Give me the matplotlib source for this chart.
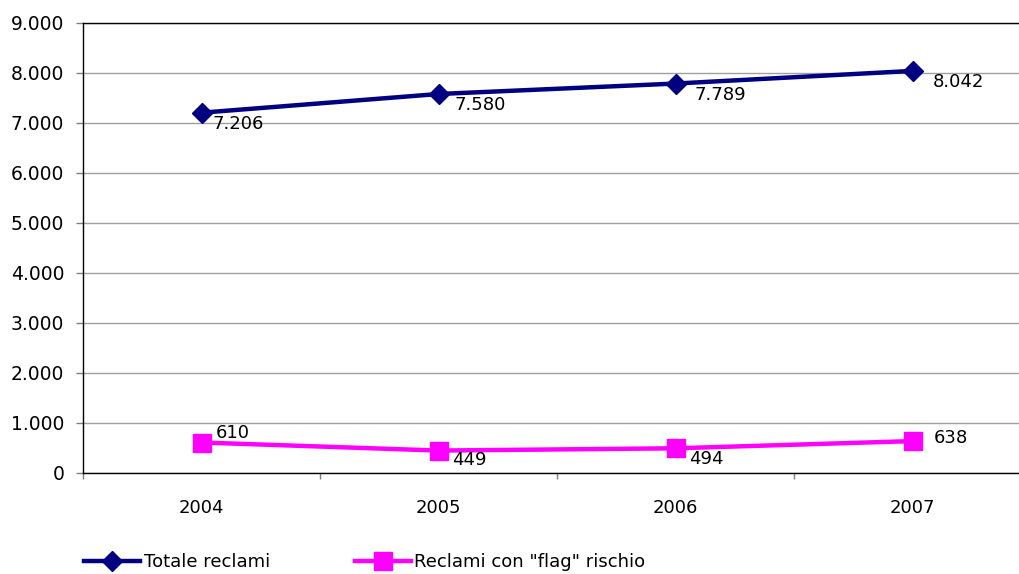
import numpy as np
import matplotlib.pyplot as plt
from matplotlib.ticker import FuncFormatter, FixedLocator

anni = ["2004", "2005", "2006", "2007"]
totale_reclami = [7206, 7580, 7789, 8042]
reclami_flag = [610, 449, 494, 638]

# spostamento delle etichette (pixel) rispetto al punto
off_totale = [(11, -11), (16, -11), (19, -11), (20, -11)]
off_flag = [(14, 10), (14, -9), (14, -11), (21, 3)]

def fmt(v):
    return f"{int(v):,}".replace(",", ".")

plt.rcParams['font.family'] = ['DejaVu Sans']

fig = plt.figure(figsize=(10.19, 5.74), dpi=100)
ax = fig.add_axes([83 / 1019, 101 / 574, 948 / 1019, 450 / 574])

x = np.arange(len(anni))
l1, = ax.plot(x, totale_reclami, color="#000080", lw=3.2, marker="D", ms=10,
              label="Totale reclami", zorder=3)
l2, = ax.plot(x, reclami_flag, color="#FF00FF", lw=3.2, marker="s", ms=13.5,
              label='Reclami con "flag" rischio', zorder=3)

px = 72 / 100
for xi, v, (dx, dy) in zip(x, totale_reclami, off_totale):
    ax.annotate(fmt(v), (xi, v), xytext=(dx * px, dy * px), textcoords="offset points",
                ha="left", va="center", fontsize=13)
for xi, v, (dx, dy) in zip(x, reclami_flag, off_flag):
    ax.annotate(fmt(v), (xi, v), xytext=(dx * px, dy * px), textcoords="offset points",
                ha="left", va="center", fontsize=13)

ax.set_xlim(-0.5, 3.5)
ax.set_ylim(0, 9000)
ax.set_yticks(np.arange(0, 9001, 1000))
ax.yaxis.set_major_formatter(FuncFormatter(lambda v, p: fmt(v)))
ax.tick_params(axis="y", direction="out", length=5, width=1, color="#808080",
               pad=8.5, labelsize=13.5)

ax.set_xticks(x)
ax.set_xticklabels(anni)
ax.xaxis.set_minor_locator(FixedLocator([-0.5, 0.5, 1.5, 2.5, 3.5]))
ax.tick_params(axis="x", which="major", length=0, pad=19, labelsize=13)
ax.tick_params(axis="x", which="minor", direction="out", length=4.5, width=1,
               color="#808080")

ax.grid(axis="y", color="#a0a0a0", lw=1)
ax.set_axisbelow(True)
for s in ["left", "bottom", "top"]:
    ax.spines[s].set_color("black")
    ax.spines[s].set_linewidth(1)
ax.spines["right"].set_visible(False)

fig.legend(handles=[l1, l2], loc="center left", bbox_to_anchor=(84 / 1019, 1 - 562 / 574),
           ncol=2, frameon=False, fontsize=13, borderpad=0, borderaxespad=0,
           handlelength=3.1, handletextpad=0.2, columnspacing=4.7)

fig.savefig("out.png", dpi=100)
